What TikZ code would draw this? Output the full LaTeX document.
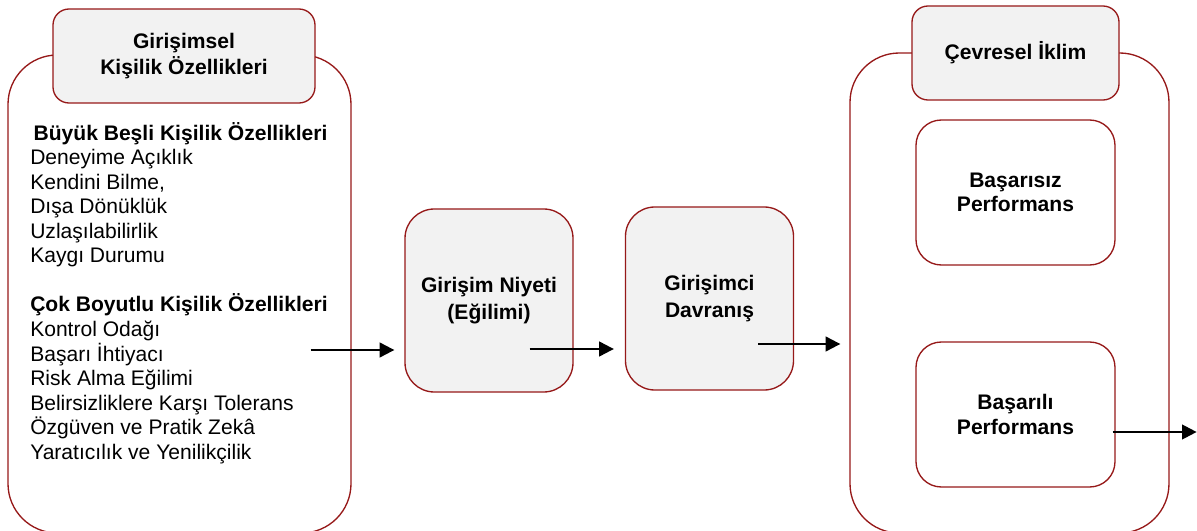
\documentclass[tikz,border=0pt]{standalone}
\usepackage{fontspec}
\setmainfont{Liberation Sans}
\usepackage{xcolor}
\usepackage{tikz}
\usetikzlibrary{arrows.meta}
\usetikzlibrary{positioning}
\definecolor{boxred}{RGB}{150,25,25}
\definecolor{boxgray}{RGB}{242,242,242}

\begin{document}
\begin{tikzpicture}[x=0.75pt, y=-0.75pt, font=\fontsize{15.8}{18.4}\selectfont, outer box/.style={draw=boxred, line width=1pt, rounded corners=37pt, inner sep=0pt}, head box/.style={draw=boxred, line width=1pt, fill=boxgray, rounded corners=12pt, inner sep=0pt, align=center, font=\bfseries\fontsize{15.8}{19}\selectfont}, mid box/.style={draw=boxred, line width=1pt, fill=boxgray, rounded corners=22pt, inner sep=0pt, align=center, minimum width=126pt, minimum height=137.25pt, font=\bfseries\fontsize{15.8}{20}\selectfont}, perf box/.style={draw=boxred, line width=1pt, fill=white, rounded corners=19pt, inner sep=0pt, align=center, minimum width=149.25pt, minimum height=108.75pt, font=\bfseries\fontsize{15.8}{18.2}\selectfont}, flow/.style={-{Triangle[length=11pt, width=11pt]}, line width=1.6pt}]
	\useasboundingbox (0,0) rectangle (1197,531);
	\node[outer box, minimum width=257.25pt, minimum height=358.5pt] (kisilik) at (179.5,294) {};
	\node[head box, minimum width=196.5pt, minimum height=70.5pt] (kisilikbas) at (184,56) {Girişimsel\\Kişilik Özellikleri};
	\node[anchor=north west, inner sep=0pt, align=left] (liste) at (30,122) {\hspace*{2.5pt}\textbf{Büyük Beşli Kişilik Özellikleri}\\Deneyime Açıklık\\Kendini Bilme,\\Dışa Dönüklük\\Uzlaşılabilirlik\\Kaygı Durumu\\[18.4pt]\textbf{Çok Boyutlu Kişilik Özellikleri}\\Kontrol Odağı\\Başarı İhtiyacı\\Risk Alma Eğilimi\\Belirsizliklere Karşı Tolerans\\Özgüven ve Pratik Zekâ\\Yaratıcılık ve Yenilikçilik};
	\node[mid box] (niyet) at (489,300.5) {Girişim Niyeti\\(Eğilimi)};
	\node[mid box] (davranis) at (709.5,298.5) {Girişimci\\Davranış};
	\node[outer box, minimum width=239.25pt, minimum height=360pt] (iklim) at (1009.5,293) {};
	\node[head box, minimum width=155.25pt, minimum height=70.5pt] (iklimbas) at (1015.5,53) {Çevresel İklim};
	\node[perf box] (basarisiz) at (1015.5,192.5) {Başarısız\\Performans};
	\node[perf box] (basarili) at (1015.5,414.5) {Başarılı\\Performans};
	\draw[flow] ([shift={(-41,56)}]kisilik.east) -- ([shift={(-10,49.5)}]niyet.west);
	\draw[flow] ([shift={(-44,48.5)}]niyet.east) -- ([shift={(-11,50.5)}]davranis.west);
	\draw[flow] ([shift={(-36,45.5)}]davranis.east) -- ([shift={(-9,51)}]iklim.west);
	\draw[flow] ([shift={(-3,17.5)}]basarili.east) -- ([shift={(81,17.5)}]basarili.east);
\end{tikzpicture}
\end{document}
